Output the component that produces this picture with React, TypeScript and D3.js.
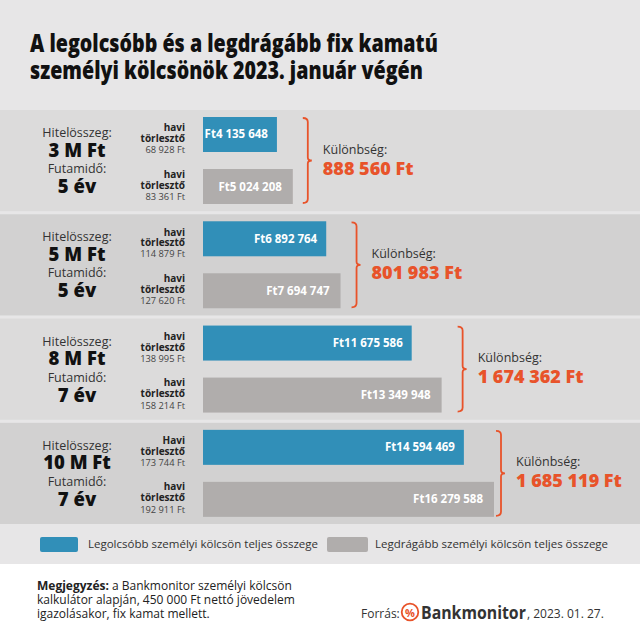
import React from 'react';
import * as d3 from 'd3';

const loanAmounts = ['3 M Ft', '5 M Ft', '8 M Ft', '10 M Ft'];
const loanTerms = ['5 év', '5 év', '7 év', '7 év'];
const cheapestTotal = [4135648, 6892764, 11675586, 14594469];
const priciestTotal = [5024208, 7694747, 13349948, 16279588];
const cheapestMonthly = [68928, 114879, 138995, 173744];
const priciestMonthly = [83361, 127620, 158214, 192911];
const cheapestMonthlyLabel = ['havi', 'havi', 'havi', 'Havi'];
const seriesNames = ['Legolcsóbb személyi kölcsön teljes összege', 'Legdrágább személyi kölcsön teljes összege'];

const W = 640;
const H = 640;
const BLUE = '#318fb8';
const GRAY = '#b0adac';
const ORANGE = '#e8532a';
const FONT = '"Open Sans", sans-serif';
const bracketGap = [15, 16, 21, 7];

const huLocale = d3.formatLocale({ decimal: ',', thousands: ' ', grouping: [3], currency: ['', ' Ft'] });
const fmt = huLocale.format(',d');

type TProps = {
  x: number; y: number; anchor?: 'start' | 'middle' | 'end'; size: number; weight?: number | string;
  fill?: string; sx?: number; children: React.ReactNode;
};
function T({ x, y, anchor = 'start', size, weight = 400, fill = '#333', sx = 1, children }: TProps) {
  return (
    <text transform={`translate(${x},${y}) scale(${sx},1)`} textAnchor={anchor} fontSize={size}
      fontWeight={weight} fill={fill} fontFamily={FONT}>{children}</text>
  );
}

export default function App() {
  const rows = d3.range(loanAmounts.length);
  const yBand = d3.scaleBand<number>().domain(rows).range([110, 524]).paddingInner(0.03).paddingOuter(0);
  const ySeries = d3.scaleBand<number>().domain([0, 1]).range([7, 94]).paddingInner(0.327).paddingOuter(0);
  const x = d3.scaleLinear().domain([0, d3.max(priciestTotal) as number]).range([203, 494]);

  return (
    <svg width={W} height={H} style={{ display: 'block', position: 'absolute', left: 0, top: 0 }}>
      <rect x={0} y={0} width={W} height={564} fill="#e7e6e7" />
      <rect x={0} y={564} width={W} height={H - 564} fill="#ffffff" />
      <T x={30} y={52} size={24} weight={800} fill="#111" sx={0.82}>A legolcsóbb és a legdrágább fix kamatú</T>
      <T x={30} y={79} size={24} weight={800} fill="#111" sx={0.82}>személyi kölcsönök 2023. január végén</T>
      {rows.map((i) => {
        const top = yBand(i) as number;
        const bh = yBand.bandwidth();
        const yb = top + (ySeries(0) as number);
        const yg = top + (ySeries(1) as number);
        const sh = ySeries.bandwidth();
        const xb = x(cheapestTotal[i]);
        const xg = x(priciestTotal[i]);
        const bx = xg + bracketGap[i];
        const bTop = yb;
        const bBot = yg + sh;
        const mid = (bTop + bBot) / 2;
        const diff = priciestTotal[i] - cheapestTotal[i];
        return (
          <g key={i}>
            <rect x={0} y={top} width={W} height={bh} fill={i % 2 === 0 ? '#dcdbdb' : '#d2d1d1'} />
            <T x={77} y={top + 27} anchor="middle" size={12.5} fill="#333">Hitelösszeg:</T>
            <T x={77} y={top + 46.5} anchor="middle" size={18.5} weight={800} fill="#111">{loanAmounts[i]}</T>
            <T x={77} y={top + 63} anchor="middle" size={12.5} fill="#333">Futamidő:</T>
            <T x={77} y={top + 83} anchor="middle" size={18.5} weight={800} fill="#111">{loanTerms[i]}</T>

            <T x={185} y={yb + sh / 2 - 3} anchor="end" size={10} weight={700} fill="#222">{cheapestMonthlyLabel[i]}</T>
            <T x={185} y={yb + sh / 2 + 7.5} anchor="end" size={10} weight={700} fill="#222">törlesztő</T>
            <T x={185} y={yb + sh / 2 + 18.5} anchor="end" size={9.3} fill="#444">{fmt(cheapestMonthly[i])} Ft</T>
            <T x={185} y={yg + sh / 2 - 9} anchor="end" size={10} weight={700} fill="#222">havi</T>
            <T x={185} y={yg + sh / 2 + 2} anchor="end" size={10} weight={700} fill="#222">törlesztő</T>
            <T x={185} y={yg + sh / 2 + 13.5} anchor="end" size={9.3} fill="#444">{fmt(priciestMonthly[i])} Ft</T>

            <rect x={x(0)} y={yb} width={xb - x(0)} height={sh} fill={BLUE} />
            <rect x={x(0)} y={yg} width={xg - x(0)} height={sh} fill={GRAY} />
            <T x={xb - 9} y={yb + sh / 2 + 4} anchor="end" size={11.5} weight={700} fill="#fff">Ft{fmt(cheapestTotal[i])}</T>
            <T x={xg - 11} y={yg + sh / 2 + 4} anchor="end" size={11.5} weight={700} fill="#fff">Ft{fmt(priciestTotal[i])}</T>

            <path d={`M${bx - 5},${bTop + 1} Q${bx},${bTop + 1} ${bx},${bTop + 5} L${bx},${mid - 3} Q${bx},${mid} ${bx + 4},${mid} Q${bx},${mid} ${bx},${mid + 3} L${bx},${bBot - 5} Q${bx},${bBot - 1} ${bx - 5},${bBot - 1}`}
              fill="none" stroke={ORANGE} strokeWidth={1.8} />
            <T x={bx + 15} y={mid - 7} size={12.5} fill="#333">Különbség:</T>
            <T x={bx + 15} y={mid + 14} size={18} weight={800} fill={ORANGE}>{fmt(diff)} Ft</T>
          </g>
        );
      })}
      <rect x={0} y={524} width={W} height={40} fill="#e7e6e7" />
      <rect x={40} y={537} width={38} height={15} rx={2} fill={BLUE} />
      <T x={88} y={548} size={11.5} fill="#333">{seriesNames[0]}</T>
      <rect x={327} y={537} width={41} height={15} rx={2} fill={GRAY} />
      <T x={375} y={548} size={11.5} fill="#333">{seriesNames[1]}</T>

      <text x={37} y={590} fontSize={12} fontFamily={FONT} fill="#222">
        <tspan fontWeight={700}>Megjegyzés:</tspan> a Bankmonitor személyi kölcsön
      </text>
      <T x={37} y={604} size={12} fill="#222">kalkulátor alapján, 450 000 Ft nettó jövedelem</T>
      <T x={37} y={618} size={12} fill="#222">igazolásakor, fix kamat mellett.</T>

      <T x={361} y={618} size={12} fill="#333">Forrás:</T>
      <circle cx={410} cy={612} r={8.3} fill="none" stroke={ORANGE} strokeWidth={1.8} />
      <T x={410} y={616.5} anchor="middle" size={11} weight={700} fill={ORANGE}>%</T>
      <T x={421} y={619} size={18} weight={700} fill="#333" sx={0.88}>Bankmonitor</T>
      <T x={527} y={618} size={12} fill="#333">, 2023. 01. 27.</T>
    </svg>
  );
}
